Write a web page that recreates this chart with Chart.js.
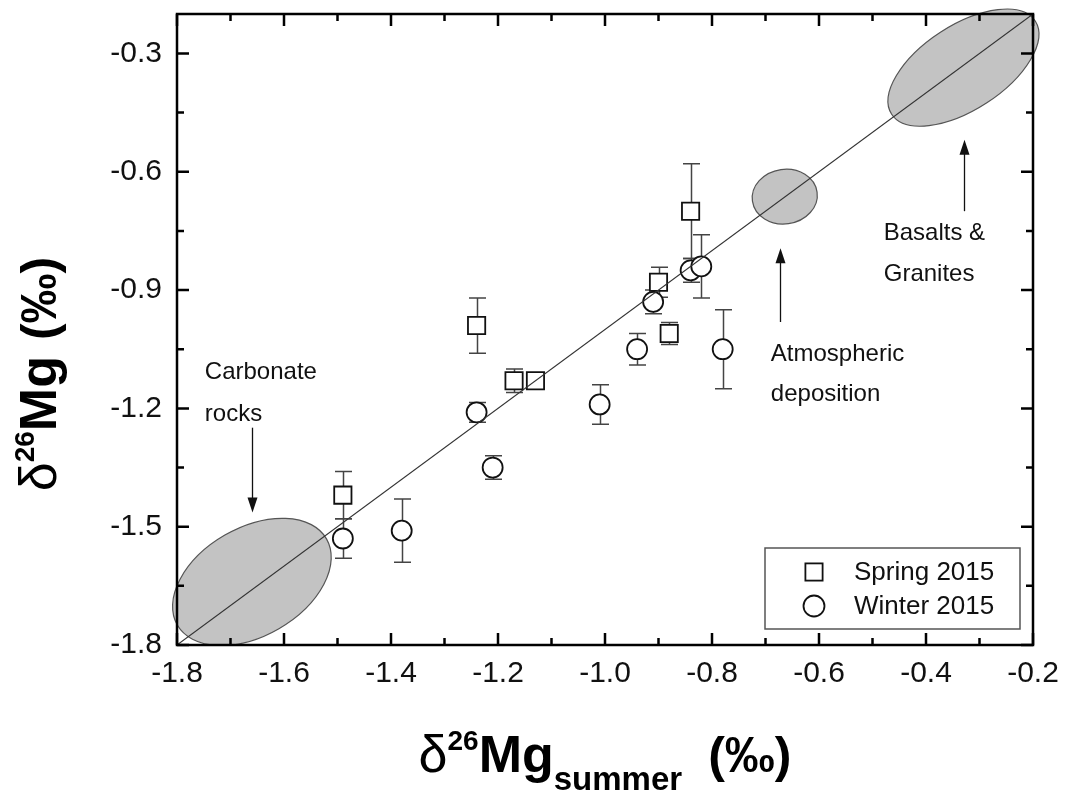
<!DOCTYPE html>
<html>
<head>
<meta charset="utf-8">
<script src="https://cdn.jsdelivr.net/npm/chart.js@4.4.0/dist/chart.umd.min.js"></script>
<style>
  html, body { margin: 0; padding: 0; background: #fff; }
  #wrap { width: 1068px; height: 797px; }
</style>
</head>
<body>
<div id="wrap"><canvas id="scatter" width="1068" height="797"></canvas></div>
<script>
// tick labels
const xTicks = [-1.8, -1.6, -1.4, -1.2, -1.0, -0.8, -0.6, -0.4, -0.2];
const yTicks = [-1.8, -1.5, -1.2, -0.9, -0.6, -0.3];

// Spring 2015 (squares)
const springX   = [-0.84, -0.90, -0.88, -1.24, -1.17, -1.13, -1.49];
const springY   = [-0.70, -0.88, -1.01, -0.99, -1.13, -1.13, -1.42];
const springErr = [0.12, 0.038, 0.028, 0.07, 0.03, 0, 0.06];

// Winter 2015 (circles)
const winterX   = [-0.84, -0.82, -0.91, -0.94, -0.78, -1.01, -1.24, -1.21, -1.49, -1.38];
const winterY   = [-0.85, -0.84, -0.93, -1.05, -1.05, -1.19, -1.21, -1.35, -1.53, -1.51];
const winterErr = [0.03, 0.08, 0.03, 0.04, 0.10, 0.05, 0.025, 0.03, 0.05, 0.08];

// 1:1 line
const oneToOne = [-1.8, -0.2];

// source end-member fields: centre, semi axes (x units), tilt in degrees
const fields = [
  { cx: -1.66, cy: -1.64, a: 0.161, b: 0.101, tilt: 30 },
  { cx: -0.664, cy: -0.663, a: 0.061, b: 0.051, tilt: 8 },
  { cx: -0.33, cy: -0.336, a: 0.160, b: 0.079, tilt: 33 }
];

const notes = [
  { lines: ['Carbonate', 'rocks'], x: -1.748, y: [-1.125, -1.231], arrow: [-1.659, -1.249, -1.464] },
  { lines: ['Atmospheric', 'deposition'], x: -0.690, y: [-1.080, -1.181], arrow: [-0.673, -0.981, -0.794] },
  { lines: ['Basalts &', 'Granites'], x: -0.479, y: [-0.774, -0.877], arrow: [-0.329, -0.700, -0.519] }
];

const FONT = '"Liberation Sans", Arial, sans-serif';

function midpoints(arr) {
  const out = [];
  for (let i = 0; i < arr.length - 1; i++) out.push((arr[i] + arr[i + 1]) / 2);
  return out;
}

function noPad(s) {
  s.paddingTop = 0; s.paddingBottom = 0; s.paddingLeft = 0; s.paddingRight = 0;
}

const backdrop = {
  id: 'backdrop',
  beforeDatasetsDraw(chart) {
    const { ctx, scales: { x, y } } = chart;
    const pxPerUnit = Math.abs(x.getPixelForValue(1) - x.getPixelForValue(0));
    ctx.save();
    fields.forEach(f => {
      ctx.beginPath();
      ctx.ellipse(x.getPixelForValue(f.cx), y.getPixelForValue(f.cy),
        f.a * pxPerUnit, f.b * pxPerUnit, -f.tilt * Math.PI / 180, 0, Math.PI * 2);
      ctx.fillStyle = '#c3c3c3';
      ctx.fill();
      ctx.lineWidth = 1.2;
      ctx.strokeStyle = '#555';
      ctx.stroke();
    });
    // error bars
    ctx.strokeStyle = '#444';
    ctx.lineWidth = 1.5;
    const bars = (xs, ys, es) => xs.forEach((v, i) => {
      if (!es[i]) return;
      const px = Math.round(x.getPixelForValue(v)) + 0.5;
      const top = y.getPixelForValue(ys[i] + es[i]);
      const bot = y.getPixelForValue(ys[i] - es[i]);
      ctx.beginPath();
      ctx.moveTo(px, top); ctx.lineTo(px, bot);
      ctx.moveTo(px - 8.5, top); ctx.lineTo(px + 8.5, top);
      ctx.moveTo(px - 8.5, bot); ctx.lineTo(px + 8.5, bot);
      ctx.stroke();
    });
    bars(springX, springY, springErr);
    bars(winterX, winterY, winterErr);
    ctx.restore();
  }
};

const frame = {
  id: 'frame',
  afterDatasetsDraw(chart) {
    const { ctx, chartArea: a, scales: { x, y } } = chart;
    ctx.save();
    ctx.strokeStyle = '#000';
    ctx.lineWidth = 2.5;
    ctx.strokeRect(a.left, a.top, a.right - a.left, a.bottom - a.top);
    ctx.beginPath();
    const xt = (vals, len) => vals.forEach(v => {
      const p = x.getPixelForValue(v);
      ctx.moveTo(p, a.bottom); ctx.lineTo(p, a.bottom - len);
      ctx.moveTo(p, a.top); ctx.lineTo(p, a.top + len);
    });
    const yt = (vals, len) => vals.forEach(v => {
      const p = y.getPixelForValue(v);
      ctx.moveTo(a.left, p); ctx.lineTo(a.left + len, p);
      ctx.moveTo(a.right, p); ctx.lineTo(a.right - len, p);
    });
    xt(xTicks, 12); xt(midpoints(xTicks), 7);
    yt(yTicks, 12); yt(midpoints(yTicks), 7);
    ctx.stroke();
    ctx.restore();
  }
};

function drawRuns(ctx, runs, cx, base) {
  let total = 0;
  runs.forEach(r => { ctx.font = r.f; r.w = ctx.measureText(r.t).width; total += r.w + (r.gap || 0); });
  let pos = cx - total / 2;
  ctx.textBaseline = 'alphabetic';
  ctx.textAlign = 'left';
  runs.forEach(r => {
    pos += r.gap || 0;
    ctx.font = r.f;
    ctx.fillText(r.t, pos, base + (r.dy || 0));
    pos += r.w;
  });
}

const decor = {
  id: 'decor',
  afterDraw(chart) {
    const { ctx, chartArea: a, scales: { x, y } } = chart;
    ctx.save();
    ctx.fillStyle = '#111';
    ctx.strokeStyle = '#111';

    // notes with arrows
    ctx.font = '24px ' + FONT;
    ctx.textAlign = 'left';
    ctx.textBaseline = 'alphabetic';
    notes.forEach(n => {
      n.lines.forEach((t, i) => ctx.fillText(t, x.getPixelForValue(n.x), y.getPixelForValue(n.y[i])));
      const ax = Math.round(x.getPixelForValue(n.arrow[0])) + 0.5;
      const y0 = y.getPixelForValue(n.arrow[1]);
      const y1 = y.getPixelForValue(n.arrow[2]);
      const dir = y1 > y0 ? 1 : -1;
      ctx.lineWidth = 1.3;
      ctx.beginPath();
      ctx.moveTo(ax, y0); ctx.lineTo(ax, y1 - dir * 12);
      ctx.stroke();
      ctx.beginPath();
      ctx.moveTo(ax, y1);
      ctx.lineTo(ax - 5, y1 - dir * 15);
      ctx.lineTo(ax + 5, y1 - dir * 15);
      ctx.closePath();
      ctx.fill();
    });

    // legend
    const lx = 765, ly = 548, lw = 255, lh = 81;
    ctx.fillStyle = '#fff';
    ctx.fillRect(lx, ly, lw, lh);
    ctx.lineWidth = 1.5;
    ctx.strokeStyle = '#555';
    ctx.strokeRect(lx, ly, lw, lh);
    ctx.strokeStyle = '#111';
    ctx.lineWidth = 1.8;
    ctx.strokeRect(814 - 8.6, 572 - 8.6, 17.2, 17.2);
    ctx.beginPath();
    ctx.arc(814, 606, 10.5, 0, Math.PI * 2);
    ctx.stroke();
    ctx.fillStyle = '#111';
    ctx.font = '26px ' + FONT;
    ctx.textBaseline = 'middle';
    ctx.fillText(chart.data.datasets[0].label, 854, 573);
    ctx.fillText(chart.data.datasets[1].label, 854, 607);

    // axis titles
    ctx.fillStyle = '#000';
    drawRuns(ctx, [
      { t: 'δ', f: '52px ' + FONT },
      { t: '26', f: 'bold 28px ' + FONT, dy: -22 },
      { t: 'Mg', f: 'bold 52px ' + FONT },
      { t: 'summer', f: 'bold 33px ' + FONT, dy: 18 },
      { t: '(‰)', f: 'bold 50px ' + FONT, gap: 26 }
    ], (a.left + a.right) / 2, 772);

    ctx.translate(56, 374);
    ctx.rotate(-Math.PI / 2);
    drawRuns(ctx, [
      { t: 'δ', f: '52px ' + FONT },
      { t: '26', f: 'bold 28px ' + FONT, dy: -22 },
      { t: 'Mg', f: 'bold 52px ' + FONT },
      { t: '(‰)', f: 'bold 50px ' + FONT, gap: 16 }
    ], 0, 0);
    ctx.restore();
  }
};

const ctx = document.getElementById('scatter');

new Chart(ctx, {
  type: 'scatter',
  data: {
    datasets: [
      {
        label: 'Spring 2015',
        data: springX.map((v, i) => ({ x: v, y: springY[i] })),
        pointStyle: 'rect',
        pointRadius: 12.2,
        borderColor: '#111',
        backgroundColor: '#fff',
        borderWidth: 1.8,
        order: 2
      },
      {
        label: 'Winter 2015',
        data: winterX.map((v, i) => ({ x: v, y: winterY[i] })),
        pointStyle: 'circle',
        pointRadius: 10,
        borderColor: '#111',
        backgroundColor: '#fff',
        borderWidth: 1.8,
        order: 2
      },
      {
        label: '1:1',
        type: 'line',
        data: oneToOne.map(v => ({ x: v, y: v })),
        borderColor: '#333',
        borderWidth: 1.1,
        pointRadius: 0,
        order: 0
      }
    ]
  },
  options: {
    responsive: false,
    animation: false,
    devicePixelRatio: 1,
    layout: { padding: { top: 12, right: 35, left: 0, bottom: 0 } },
    plugins: { legend: { display: false }, tooltip: { enabled: false } },
    scales: {
      x: {
        type: 'linear',
        min: -1.8,
        max: -0.2,
        afterFit: s => { s.height = 152; noPad(s); },
        afterBuildTicks: s => { s.ticks = xTicks.map(v => ({ value: v })); },
        grid: { display: false, drawTicks: false },
        border: { display: false },
        ticks: {
          padding: 11,
          autoSkip: false,
          maxRotation: 0,
          color: '#111',
          font: { family: FONT, size: 30 },
          callback: v => v.toFixed(1)
        }
      },
      y: {
        type: 'linear',
        min: -1.8,
        max: -0.2,
        afterFit: s => { s.width = 177; noPad(s); },
        afterBuildTicks: s => { s.ticks = yTicks.map(v => ({ value: v })); },
        grid: { display: false, drawTicks: false },
        border: { display: false },
        ticks: {
          padding: 15,
          autoSkip: false,
          color: '#111',
          font: { family: FONT, size: 30 },
          callback: v => v.toFixed(1)
        }
      }
    }
  },
  plugins: [backdrop, frame, decor]
});
</script>
</body>
</html>
